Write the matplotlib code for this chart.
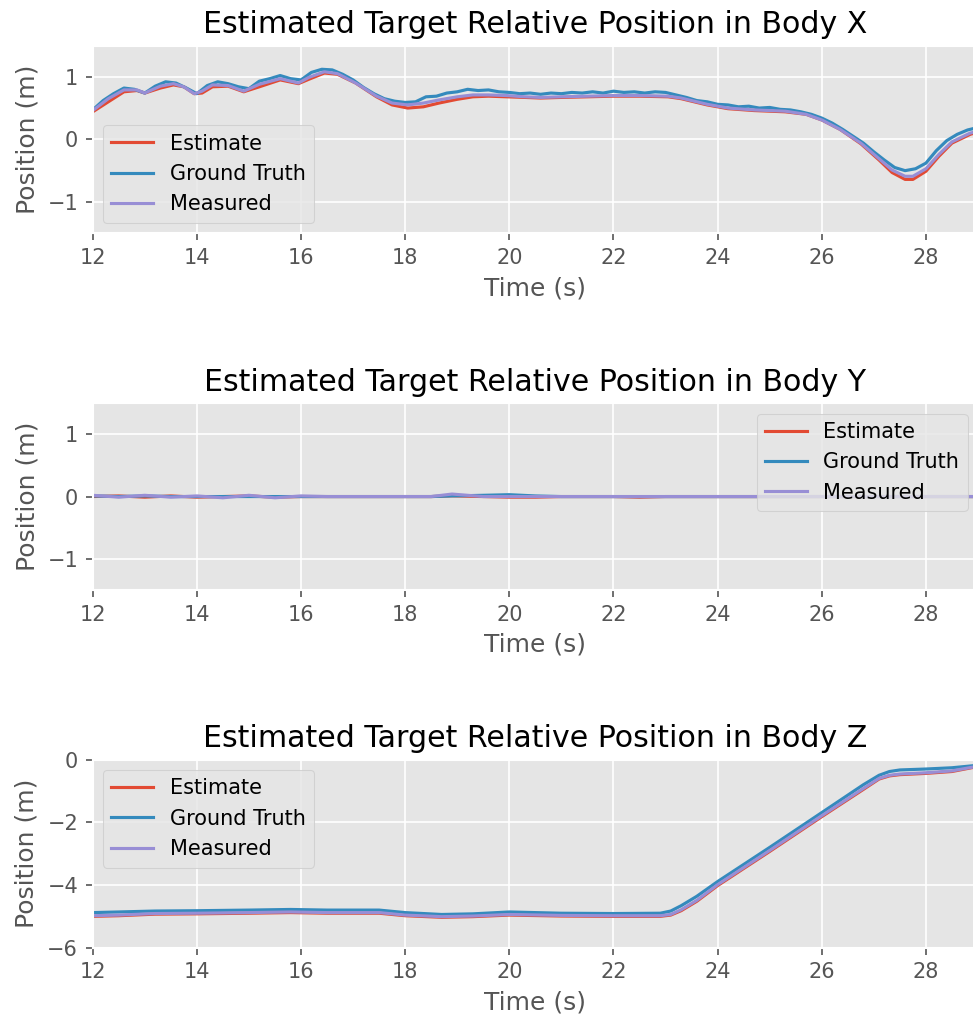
import matplotlib
matplotlib.use("Agg")
import matplotlib.pyplot as plt

plt.style.use("ggplot")

# ---------------- data ----------------
t_x = [12.0, 12.3, 12.6, 12.85, 13.0, 13.3, 13.55, 13.75, 13.95, 14.1, 14.3, 14.6, 14.9,
       15.2, 15.6, 15.95, 16.15, 16.45, 16.7, 17.05, 17.45, 17.75, 18.05, 18.35, 18.65,
       19.0, 19.3, 19.6, 19.95, 20.3, 20.6, 21.0, 21.5, 22.0, 22.5, 23.05, 23.3, 23.8,
       24.2, 24.7, 25.3, 25.7, 26.0, 26.35, 26.75, 27.1, 27.35, 27.6, 27.75, 28.0, 28.25,
       28.5, 28.85, 29.0]
est_x = [0.44, 0.60, 0.76, 0.78, 0.74, 0.82, 0.87, 0.84, 0.73, 0.74, 0.84, 0.85, 0.76,
         0.84, 0.95, 0.89, 0.96, 1.06, 1.04, 0.90, 0.68, 0.55, 0.50, 0.52, 0.58,
         0.64, 0.68, 0.69, 0.68, 0.67, 0.66, 0.67, 0.68, 0.69, 0.69, 0.68, 0.65, 0.55,
         0.49, 0.46, 0.44, 0.40, 0.31, 0.16, -0.07, -0.33, -0.53, -0.64, -0.64, -0.51, -0.27,
         -0.06, 0.08, 0.12]
meas_x = [0.46, 0.65, 0.79, 0.79, 0.74, 0.85, 0.89, 0.84, 0.73, 0.77, 0.87, 0.86, 0.77,
          0.88, 0.97, 0.90, 0.99, 1.08, 1.05, 0.90, 0.69, 0.58, 0.55, 0.58, 0.63,
          0.68, 0.71, 0.71, 0.70, 0.68, 0.67, 0.68, 0.69, 0.70, 0.70, 0.69, 0.66, 0.56,
          0.50, 0.47, 0.45, 0.40, 0.31, 0.16, -0.06, -0.31, -0.49, -0.59, -0.59, -0.47, -0.24,
          -0.04, 0.10, 0.13]

# ground truth in X is sampled more densely (it is visibly noisy)
t_x_gt = [12.0, 12.2, 12.4, 12.6, 12.8, 13.0, 13.2, 13.4, 13.6, 13.8,
          14.0, 14.2, 14.4, 14.6, 14.8, 15.0, 15.2, 15.4, 15.6, 15.8,
          16.0, 16.2, 16.4, 16.6, 16.8, 17.0, 17.2, 17.4, 17.6, 17.8,
          18.0, 18.2, 18.4, 18.6, 18.8, 19.0, 19.2, 19.4, 19.6, 19.8,
          20.0, 20.2, 20.4, 20.6, 20.8, 21.0, 21.2, 21.4, 21.6, 21.8,
          22.0, 22.2, 22.4, 22.6, 22.8, 23.0, 23.2, 23.4, 23.6, 23.8,
          24.0, 24.2, 24.4, 24.6, 24.8, 25.0, 25.2, 25.4, 25.6, 25.8,
          26.0, 26.2, 26.4, 26.6, 26.8, 27.0, 27.2, 27.4, 27.6, 27.8,
          28.0, 28.2, 28.4, 28.6, 28.8, 29.0]
gt_x = [0.47, 0.62, 0.73, 0.82, 0.80, 0.74, 0.85, 0.92, 0.90, 0.82,
        0.73, 0.86, 0.92, 0.89, 0.84, 0.81, 0.93, 0.97, 1.02, 0.97,
        0.95, 1.07, 1.12, 1.11, 1.04, 0.95, 0.83, 0.73, 0.65, 0.61,
        0.59, 0.60, 0.68, 0.69, 0.74, 0.76, 0.80, 0.78, 0.79, 0.76,
        0.75, 0.73, 0.74, 0.72, 0.74, 0.73, 0.75, 0.74, 0.76, 0.74,
        0.77, 0.75, 0.76, 0.74, 0.76, 0.75, 0.71, 0.67, 0.62, 0.60,
        0.56, 0.55, 0.52, 0.53, 0.50, 0.51, 0.48, 0.47, 0.44, 0.40,
        0.34, 0.26, 0.16, 0.05, -0.06, -0.20, -0.33, -0.45, -0.50, -0.47,
        -0.38, -0.18, -0.02, 0.08, 0.15, 0.19]

t_y = [12.0, 12.5, 13.0, 13.5, 14.0, 14.5, 15.0, 15.5, 16.0, 16.5, 17.0, 17.5, 18.0,
       18.5, 18.9, 19.5, 20.0, 20.5, 21.0, 21.5, 22.0, 22.5, 23.0, 23.5, 24.0, 24.5,
       25.0, 25.5, 26.0, 26.5, 27.0, 27.5, 28.0, 28.5, 29.0]
gt_y = [0.01, 0.0, 0.01, 0.0, 0.0, 0.0, 0.0, 0.0, 0.0, 0.0, 0.0, 0.0, 0.0,
        0.0, 0.01, 0.02, 0.03, 0.01, 0.0, 0.0, 0.0, 0.0, 0.0, 0.0, 0.0, 0.0,
        0.0, 0.0, 0.0, 0.0, 0.0, 0.0, 0.0, 0.0, 0.0]
est_y = [0.0, 0.01, -0.01, 0.01, -0.01, 0.0, 0.01, -0.01, 0.0, 0.0, 0.0, 0.0, 0.0,
         0.0, 0.01, 0.0, -0.01, -0.01, 0.0, 0.0, 0.0, -0.01, 0.0, 0.0, 0.0, 0.0,
         0.0, 0.0, 0.0, 0.0, 0.0, 0.0, 0.0, 0.0, 0.0]
meas_y = [0.02, -0.01, 0.02, -0.01, 0.01, -0.02, 0.02, -0.02, 0.01, 0.0, 0.0, 0.0, 0.0,
          0.0, 0.04, 0.0, 0.0, 0.0, 0.0, 0.0, 0.0, 0.0, 0.0, 0.0, 0.0, 0.0,
          0.0, 0.0, 0.0, 0.0, 0.0, 0.0, 0.0, 0.0, 0.0]

t_z = [12.0, 12.5, 13.2, 14.0, 15.0, 15.8, 16.5, 17.5, 18.0, 18.7, 19.3, 20.0, 21.0,
       22.0, 22.9, 23.1, 23.3, 23.6, 24.0, 25.0, 26.0, 26.8, 27.1, 27.3, 27.5, 28.0,
       28.5, 29.0]
gt_z = [-4.88, -4.86, -4.83, -4.82, -4.80, -4.78, -4.80, -4.80, -4.88, -4.94, -4.92,
        -4.86, -4.90, -4.91, -4.90, -4.83, -4.66, -4.36, -3.89, -2.80, -1.69, -0.80,
        -0.50, -0.38, -0.33, -0.30, -0.26, -0.18]
est_z = [-5.00, -4.98, -4.93, -4.92, -4.90, -4.88, -4.90, -4.90, -4.98, -5.03, -5.01,
         -4.96, -4.99, -5.00, -5.00, -4.96, -4.82, -4.52, -4.02, -2.93, -1.82, -0.95,
         -0.62, -0.52, -0.48, -0.44, -0.38, -0.22]
meas_z = [-4.98, -4.96, -4.91, -4.90, -4.88, -4.86, -4.88, -4.88, -4.96, -5.01, -4.99,
          -4.94, -4.97, -4.98, -4.98, -4.94, -4.79, -4.49, -3.99, -2.90, -1.79, -0.92,
          -0.60, -0.50, -0.46, -0.42, -0.36, -0.21]

titles = ["Estimated Target Relative Position in Body X",
          "Estimated Target Relative Position in Body Y",
          "Estimated Target Relative Position in Body Z"]
series_names = ["Estimate", "Ground Truth", "Measured"]

# ---------------- figure ----------------
W, H, DPI = 973, 1015, 150
fig = plt.figure(figsize=(W / DPI, H / DPI), dpi=DPI)

left = 92.7 / W
width = (978 - 92.7) / W
rects = [
    (left, 1 - 233.2 / H, width, 187.7 / H),
    (left, 1 - 590.0 / H, width, 186.9 / H),
    (left, 1 - 947.7 / H, width, 188.1 / H),
]
data = [
    (t_x, est_x, t_x_gt, gt_x, meas_x, (-1.5, 1.5), [-1, 0, 1], "lower left"),
    (t_y, est_y, t_y, gt_y, meas_y, (-1.5, 1.5), [-1, 0, 1], "upper right"),
    (t_z, est_z, t_z, gt_z, meas_z, (-6, 0), [-6, -4, -2, 0], "upper left"),
]

for rect, (t, est, tg, gt, meas, ylim, yticks, loc), title in zip(rects, data, titles):
    ax = fig.add_axes(rect)
    ax.plot(t, est, label=series_names[0])
    ax.plot(tg, gt, label=series_names[1])
    ax.plot(t, meas, label=series_names[2])
    ax.set_xlim(12, 29)
    ax.set_xticks([12, 14, 16, 18, 20, 22, 24, 26, 28])
    ax.set_ylim(*ylim)
    ax.set_yticks(yticks)
    ax.set_title(title)
    ax.set_xlabel("Time (s)")
    ax.set_ylabel("Position (m)")
    ax.legend(loc=loc)

fig.savefig("out.png", dpi=DPI)
